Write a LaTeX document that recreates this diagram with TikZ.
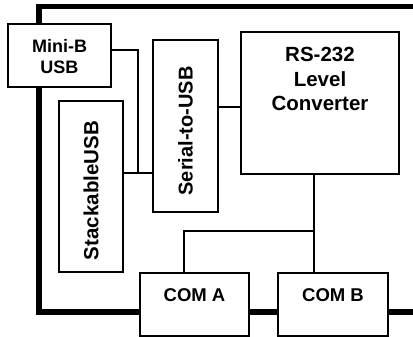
\documentclass[tikz,border=0pt]{standalone}
\usepackage{fontspec}
\setmainfont{Liberation Sans}
\begin{document}
\begin{tikzpicture}[x=1pt,y=-1pt,
  box/.style={draw=black,line width=1.2pt,fill=white,inner sep=0pt,outer sep=0pt},
  wire/.style={draw=black,line width=1.2pt},
  frame/.style={draw=black,line width=5.5pt,line join=miter},
  lbl/.style={inner sep=0pt,font=\bfseries\fontsize{#1}{#1}\selectfont},
  lbl/.default=20]
\useasboundingbox (0,0) rectangle (413,337);
\clip (0,0) rectangle (413,337);
% boxes
\node[box,minimum width=103pt,minimum height=63pt] (mini) at (59.5,55.5) {};
\node[box,minimum width=65pt,minimum height=172pt] (serial) at (185.5,126) {};
\node[box,minimum width=64pt,minimum height=171pt] (stack) at (91,186.5) {};
\node[box,minimum width=158pt,minimum height=142pt] (rs) at (320,103) {};
\node[box,minimum width=109pt,minimum height=63pt] (coma) at (194.5,304.5) {};
\node[box,minimum width=110pt,minimum height=63pt] (comb) at (333,304.5) {};
% labels
\node[lbl=18,anchor=base] (t1) at (59.5,52.3) {Mini-B};
\node[lbl=18,anchor=base] (t2) at (59.5,73.3) {USB};
\node[lbl=20.5,anchor=base] (t3) at (320,62) {RS-232};
\node[lbl=20.5,anchor=base] (t4) at (320,87) {Level};
\node[lbl=20.5,anchor=base] (t5) at (320,111) {Converter};
\node[lbl=20,rotate=90] (t6) at (185.5,131) {Serial-to-USB};
\node[lbl=20.5,rotate=90] (t7) at (91,190.5) {StackableUSB};
\node[lbl=18.5] (t8) at (194.5,295) {COM A};
\node[lbl=18.5] (t9) at (333,295) {COM B};
% junction coordinates
\coordinate (j1) at (138,50);
\coordinate (j2) at (138,173);
\coordinate (j3) at (230,107);
\coordinate (j4) at (314,231);
\coordinate (j5) at (184,231);
\coordinate (c1) at (39,312);
\coordinate (c2) at (39,6.7);
\coordinate (c3) at (420,6.7);
\coordinate (c4) at (420,312);
% thin wires
\draw[wire] (j1 -| mini.east) -- (j1) -- (j2);
\draw[wire] (stack.east |- j2) -- (serial.west |- j2);
\draw[wire] (serial.east |- j3) -- (rs.west |- j3);
\draw[wire] (rs.south -| j4) -- (comb.north -| j4);
\draw[wire] (j4) -- (j5) -- (coma.north -| j5);
% thick frame
\draw[frame] (coma.west |- c1) -- (c1) -- (mini.south -| c1);
\draw[frame] (mini.north -| c2) -- (c2) -- (c3);
\draw[frame] (coma.east |- c1) -- (comb.west |- c1);
\draw[frame] (comb.east |- c1) -- (c4);
\end{tikzpicture}
\end{document}
